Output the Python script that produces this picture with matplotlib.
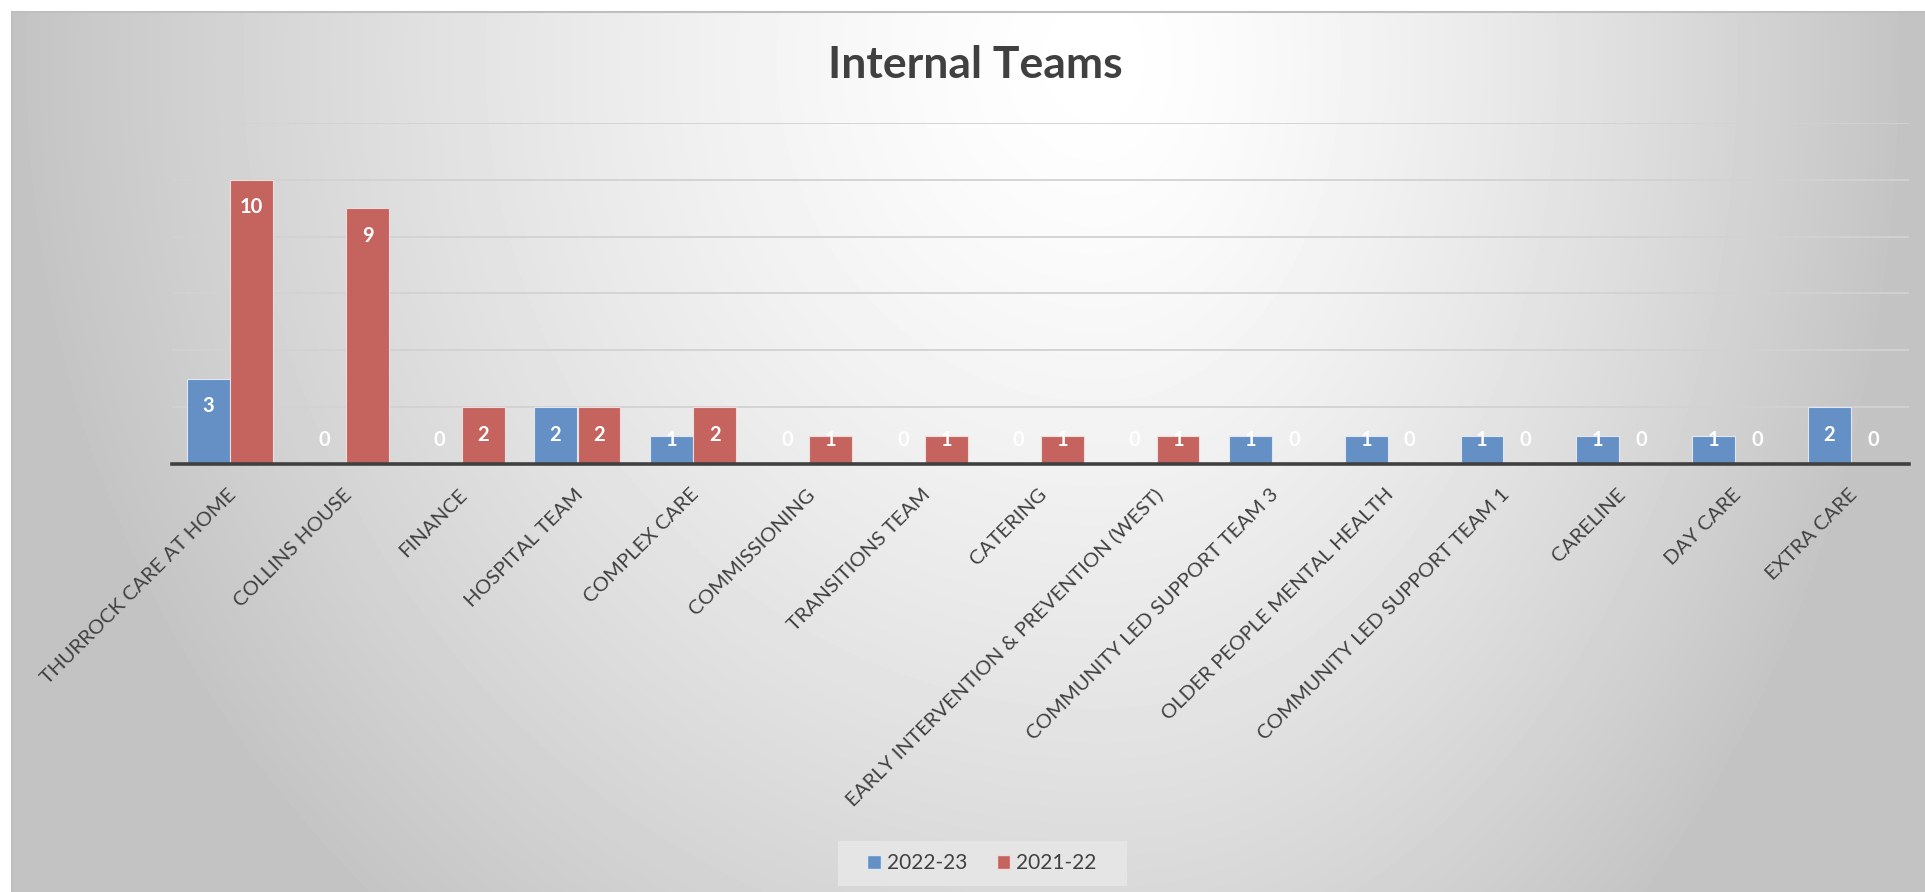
import numpy as np
import matplotlib.pyplot as plt
from matplotlib.patches import Patch, Rectangle
from matplotlib.transforms import ScaledTranslation

plt.rcParams['font.family'] = ['Lato', 'DejaVu Sans']

teams = ['THURROCK CARE AT HOME', 'COLLINS HOUSE', 'FINANCE', 'HOSPITAL TEAM', 'COMPLEX CARE',
         'COMMISSIONING', 'TRANSITIONS TEAM', 'CATERING', 'EARLY INTERVENTION & PREVENTION (WEST)',
         'COMMUNITY LED SUPPORT TEAM 3', 'OLDER PEOPLE MENTAL HEALTH', 'COMMUNITY LED SUPPORT TEAM 1',
         'CARELINE', 'DAY CARE', 'EXTRA CARE']
y2022_23 = [3, 0, 0, 2, 1, 0, 0, 0, 0, 1, 1, 1, 1, 1, 2]
y2021_22 = [10, 9, 2, 2, 2, 1, 1, 1, 1, 0, 0, 0, 0, 0, 0]
series_names = ['2022-23', '2021-22']

blue = '#6490c5'
red = '#c5635f'
dark = '#404040'

W, H = 1925, 892
fig = plt.figure(figsize=(W / 100, H / 100), dpi=100)

# background: white page, grey radial gradient chart area
bg = fig.add_axes([0, 0, 1, 1], zorder=-10)
yy, xx = np.mgrid[0:H, 0:W]
cx, cy = 1100, 60
rx = np.where(xx < cx, 1090, 810)
r = np.clip(np.sqrt(((xx - cx) / rx) ** 2 + ((yy - cy) / 1150) ** 2), 0, 1)
g = 255 - 60 * r ** 1.4
g[:12, :] = 255
g[:, :12] = 255
bg.imshow(g, cmap='gray', vmin=0, vmax=255, extent=(0, W, H, 0), aspect='auto', interpolation='bilinear')
bg.plot([12, 12], [12, H], color='#bfbfbf', lw=1.5)
bg.plot([12, W], [12, 12], color='#bfbfbf', lw=1.5)
bg.add_patch(Rectangle((838, 841), 289, 45, facecolor='#e5e5e5', edgecolor='none'))
bg.set_xlim(0, W)
bg.set_ylim(H, 0)
bg.set_axis_off()

ax = fig.add_axes([172 / W, 1 - 464 / H, (1909 - 172) / W, (464 - 123) / H])
ax.patch.set_alpha(0)

x = np.arange(len(teams))
w = 0.37
off = 0.188
ax.bar(x - off, y2022_23, w, color=blue, edgecolor='#dfe7f2', lw=0.8, zorder=3)
ax.bar(x + off, y2021_22, w, color=red, edgecolor='#f0dcdb', lw=0.8, zorder=3)

for xs, vals in ((x - off, y2022_23), (x + off, y2021_22)):
    for xi, v in zip(xs, vals):
        ax.text(xi, max(v - 0.97, 0.84), str(v), ha='center', va='center', color='white',
                fontweight='bold', fontsize=14.5, zorder=5)

ax.set_xlim(-0.5, len(teams) - 0.5)
ax.set_ylim(0, 12)
ax.set_yticks(range(2, 13, 2))
ax.yaxis.grid(True, color='#d2d2d2', lw=1.3)
ax.set_axisbelow(True)
ax.tick_params(axis='y', length=0, labelleft=False)
for s in ('top', 'left', 'right'):
    ax.spines[s].set_visible(False)
ax.spines['bottom'].set_color(dark)
ax.spines['bottom'].set_linewidth(2.6)
ax.spines['bottom'].set_zorder(4)

ax.set_xticks(x)
ax.set_xticklabels(teams, rotation=45, ha='right', va='center', rotation_mode='anchor',
                   fontsize=14.7, color=dark)
ax.tick_params(axis='x', length=0, pad=20)
shift = ScaledTranslation(3 / 100, 0, fig.dpi_scale_trans)
for lab in ax.get_xticklabels():
    lab.set_transform(lab.get_transform() + shift)

fig.text(975 / W, 1 - 78 / H, 'Internal Teams', ha='center', va='baseline',
         fontsize=32, fontweight='bold', color=dark)

handles = [Patch(facecolor=blue, edgecolor='#dfe7f2'), Patch(facecolor=red, edgecolor='#f0dcdb')]
fig.legend(handles, series_names, loc='center', bbox_to_anchor=(982 / W, 1 - 863 / H), ncol=2,
           frameon=False, fontsize=15, handlelength=0.65, handleheight=0.65, handletextpad=0.3,
           columnspacing=1.4, labelcolor=dark)

fig.savefig('out.png', dpi=100)
